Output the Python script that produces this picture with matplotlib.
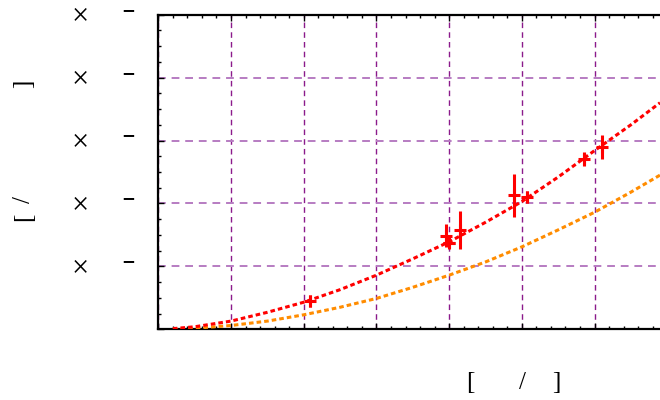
import numpy as np
import matplotlib
matplotlib.use("Agg")
import matplotlib.pyplot as plt
import matplotlib.transforms as mtransforms

x_meas = [2.09, 3.96, 4.00, 4.15, 4.89, 5.07, 5.85, 6.10]
y_meas = [0.45, 1.49, 1.37, 1.58, 2.13, 2.10, 2.70, 2.89]
y_err = [0.09, 0.19, 0.08, 0.30, 0.34, 0.09, 0.11, 0.19]
x_err = [0.0, 0.0, 0.08, 0.0, 0.0, 0.0, 0.0, 0.0]

# fitted curves, read at half-unit steps
x_curve = [0.2, 0.5, 1.0, 1.5, 2.0, 2.5, 3.0, 3.5, 4.0, 4.5, 5.0, 5.5, 6.0, 6.5, 6.9]
y_red = [0.01, 0.04, 0.13, 0.27, 0.43, 0.63, 0.86, 1.12, 1.39, 1.70, 2.03, 2.42, 2.84, 3.25, 3.60]
y_orange = [0.0, 0.016, 0.06, 0.13, 0.23, 0.35, 0.49, 0.667, 0.86, 1.07, 1.31, 1.58, 1.86, 2.18, 2.45]

x_major = [0, 1, 2, 3, 4, 5, 6]
y_major = [0, 1, 2, 3, 4, 5]
y_labelled = [1, 2, 3, 4, 5]

fig = plt.figure(figsize=(6.6, 4.0), dpi=100)
ax = fig.add_axes([0.2399, 0.1768, 0.7601, 0.7865])

ax.plot(x_curve, y_orange, color="#ff8c00", lw=2.2, ls=(0, (1.5, 1)), zorder=3)
ax.plot(x_curve, y_red, color="#ff0000", lw=2.2, ls=(0, (1.5, 1)), zorder=3)
ax.errorbar(x_meas, y_meas, yerr=y_err, xerr=x_err, fmt="+", color="#ff0000",
            ms=8, mew=2.2, elinewidth=2.2, capsize=0, zorder=4)

ax.set_xlim(0, 6.9)
ax.set_ylim(0, 5)
ax.set_xticks(x_major)
ax.set_yticks(y_major)
ax.set_xticks(np.arange(0, 6.9, 0.2), minor=True)
ax.set_yticks(np.arange(0, 5.01, 0.25), minor=True)
ax.set_xticklabels([])
ax.set_yticklabels([])
ax.tick_params(which="both", direction="in", top=True, right=False, color="black")
ax.tick_params(which="major", length=4.5, width=1)
ax.tick_params(which="minor", length=2.5, width=1)

ax.xaxis.grid(True, which="major", color="#8b1a8b", lw=1, ls=(0, (4, 3)))
ax.yaxis.grid(True, which="major", color="#b77cc2", lw=1.4, ls=(0, (4, 3)))
ax.set_axisbelow(True)

for side in ["left", "bottom", "top"]:
    ax.spines[side].set_linewidth(1.6)
ax.spines["right"].set_visible(False)

# tick labels: only the multiplication sign and the exponent minus are drawn
trans = mtransforms.blended_transform_factory(fig.transFigure, ax.transData)
down = mtransforms.ScaledTranslation(0, -2 / 100, fig.dpi_scale_trans)
up = mtransforms.ScaledTranslation(0, 5 / 100, fig.dpi_scale_trans)
for v in y_labelled:
    fig.text(80 / 660, v, "\u00d7", transform=trans + down, fontsize=22,
             family="Liberation Serif", ha="center", va="center", color="black")
    fig.text(128.5 / 660, v, "\u2212", transform=trans + up, fontsize=12,
             fontweight="bold", ha="center", va="center", color="black")

lab = dict(fontsize=18, family="Liberation Serif", ha="center", va="center")
fig.text(470 / 660, 1 - 383 / 400, "[", **lab)
fig.text(522.5 / 660, 1 - 383 / 400, "/", **lab)
fig.text(556 / 660, 1 - 383 / 400, "]", **lab)

fig.text(24 / 660, 1 - 217 / 400, "[", rotation=90, **lab)
fig.text(24 / 660, 1 - 199 / 400, "/", rotation=90, **lab)
fig.text(24 / 660, 1 - 84 / 400, "]", rotation=90, **lab)

fig.savefig("out.png", dpi=100)
